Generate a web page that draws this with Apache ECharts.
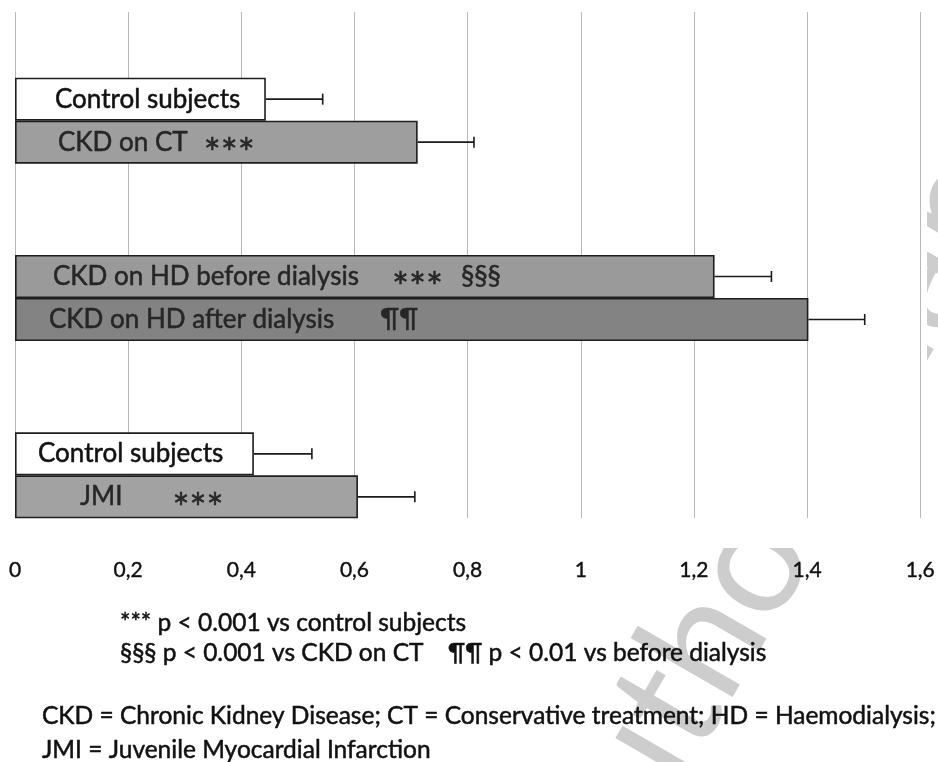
<!DOCTYPE html>
<html>
<head>
<meta charset="utf-8">
<script src="https://cdn.jsdelivr.net/npm/echarts@6/dist/echarts.min.js"></script>
<style>
  html, body { margin: 0; padding: 0; background: #ffffff; }
  #chart { width: 938px; height: 762px; }
</style>
</head>
<body>
<div id="chart"></div>
<script>
// Study groups (one band each on the category axis, top to bottom)
const groups = ['CKD on CT', 'CKD on HD', 'JMI'];

// Upper bar of each group
const upperNames = ['Control subjects', 'CKD on HD before dialysis', 'Control subjects'];
const upperStars = ['', '***', ''];
const upperSymbols = ['', '§§§', ''];
const upperMeans = [0.441, 1.230, 0.420];
const upperSD = [0.100, 0.100, 0.102];

// Lower bar of each group
const lowerNames = ['CKD on CT', 'CKD on HD after dialysis', 'JMI'];
const lowerStars = ['***', '', '***'];
const lowerSymbols = ['', '¶¶', ''];
const lowerMeans = [0.708, 1.395, 0.603];
const lowerSD = [0.099, 0.099, 0.100];

// Value axis tick labels (decimal comma)
const tickValues = [0, 0.2, 0.4, 0.6, 0.8, 1, 1.2, 1.4, 1.6];
const tickLabels = ['0', '0,2', '0,4', '0,6', '0,8', '1', '1,2', '1,4', '1,6'];

// Footnotes
const noteLines = [
  '*** p < 0.001 vs control subjects',
  '§§§ p < 0.001 vs CKD on CT',
  '¶¶ p < 0.01 vs before dialysis',
  'CKD = Chronic Kidney Disease; CT = Conservative treatment; HD = Haemodialysis;',
  'JMI = Juvenile Myocardial Infarction'
];

const FONT = 'Lato, "Open Sans", sans-serif';
const BAR_W = 43;

// Per-bar look: fill, text colour, label inset from the bar start, gaps before the marks
const upperStyle = [
  { fill: '#ffffff', text: '#111111', inset: 40, gapA: 0, gapB: 0 },
  { fill: '#9a9a9a', text: '#262626', inset: 38, gapA: 33, gapB: 18 },
  { fill: '#ffffff', text: '#111111', inset: 23, gapA: 0, gapB: 0 }
];
const lowerStyle = [
  { fill: '#9e9e9e', text: '#262626', inset: 43, gapA: 16, gapB: 0 },
  { fill: '#838383', text: '#262626', inset: 34, gapA: 0, gapB: 46 },
  { fill: '#a2a2a2', text: '#262626', inset: 65, gapA: 50, gapB: 0 }
];

function barItem(value, name, stars, symbols, st) {
  const symGap = stars ? st.gapB : st.gapA || st.gapB;
  const ink = { textBorderColor: st.text, textBorderWidth: 0.5 };
  const rich = {
    n: Object.assign({ fontFamily: FONT, fontSize: 26, color: st.text }, ink),
    a: Object.assign({ fontFamily: FONT, fontSize: 40, color: st.text, padding: [26, 0, 0, st.gapA] }, ink),
    s: Object.assign({ fontFamily: FONT, fontSize: 27, color: st.text, padding: [0, 0, 0, symGap] }, ink)
  };
  let txt = '{n|' + name + '}';
  if (stars) txt += '{a|' + stars + '}';
  if (symbols) txt += '{s|' + symbols + '}';
  return {
    value: value,
    itemStyle: { color: st.fill },
    label: {
      show: true,
      position: [st.inset, '50%'],
      verticalAlign: 'middle',
      align: 'left',
      formatter: txt,
      rich: rich
    }
  };
}

const upperData = upperMeans.map((v, i) => barItem(v, upperNames[i], upperStars[i], upperSymbols[i], upperStyle[i]));
const lowerData = lowerMeans.map((v, i) => barItem(v, lowerNames[i], lowerStars[i], lowerSymbols[i], lowerStyle[i]));

// Error bar records: [group index, mean, sd, side (-1 upper bar, +1 lower bar)]
const errData = [];
upperMeans.forEach((v, i) => errData.push([i, v, upperSD[i], -1]));
lowerMeans.forEach((v, i) => errData.push([i, v, lowerSD[i], 1]));

function renderErr(params, api) {
  const cat = api.value(0);
  const mean = api.value(1);
  const sd = api.value(2);
  const side = api.value(3);
  const p0 = api.coord([mean, cat]);
  const p1 = api.coord([mean + sd, cat]);
  const y = p0[1] + side * BAR_W / 2;
  const cap = 5.5;
  const st = { stroke: '#1a1a1a', lineWidth: 1.6 };
  return {
    type: 'group',
    children: [
      { type: 'line', shape: { x1: p0[0], y1: y, x2: p1[0], y2: y }, style: st },
      { type: 'line', shape: { x1: p1[0], y1: y - cap, x2: p1[0], y2: y + cap }, style: st }
    ]
  };
}

const noteStyle = {
  font: '24.5px ' + FONT, fill: '#111111', stroke: '#111111', lineWidth: 0.5,
  textVerticalAlign: 'middle'
};

const chart = echarts.init(document.getElementById('chart'), null, { renderer: 'canvas' });
chart.setOption({
  backgroundColor: '#ffffff',
  animation: false,
  grid: [
    // gridline frame
    { left: 15, right: 13, top: 12, bottom: 244 },
    // bar bands
    { left: 15, right: 13, top: 32, bottom: 198 }
  ],
  xAxis: [
    {
      gridIndex: 0, type: 'value', min: 0, max: 1.6, interval: 0.2,
      axisLine: { show: false }, axisTick: { show: false },
      splitLine: { show: true, lineStyle: { color: '#b8b8b8', width: 1 } },
      axisLabel: {
        margin: 42, fontFamily: FONT, fontSize: 21, color: '#111111',
        textBorderColor: '#111111', textBorderWidth: 0.4,
        formatter: v => {
          const k = tickValues.findIndex(t => Math.abs(t - v) < 1e-6);
          return k >= 0 ? tickLabels[k] : '';
        }
      }
    },
    { gridIndex: 1, type: 'value', min: 0, max: 1.6, show: false, splitLine: { show: false } }
  ],
  yAxis: [
    { gridIndex: 1, type: 'category', data: groups, inverse: true, show: false },
    { gridIndex: 0, type: 'category', data: groups, show: false }
  ],
  series: [
    {
      type: 'bar', xAxisIndex: 1, yAxisIndex: 0, barWidth: BAR_W, barGap: '0%',
      itemStyle: { borderColor: '#1e1e1e', borderWidth: 1.6 },
      data: upperData, z: 3
    },
    {
      type: 'bar', xAxisIndex: 1, yAxisIndex: 0, barWidth: BAR_W, barGap: '0%',
      itemStyle: { borderColor: '#1e1e1e', borderWidth: 1.6 },
      data: lowerData, z: 3
    },
    {
      type: 'custom', xAxisIndex: 1, yAxisIndex: 0, renderItem: renderErr,
      data: errData, z: 4, silent: true
    }
  ],
  graphic: [
    {
      type: 'text', x: 556, y: 900, rotation: Math.PI / 3, z: -20,
      style: { text: 'Author Manuscript', font: '160px ' + FONT, fill: '#cdcdcd',
               textAlign: 'left', textVerticalAlign: 'middle' }
    },
    { type: 'rect', shape: { x: 0, y: 0, width: 927, height: 548 }, style: { fill: '#ffffff' }, z: -19 },
    { type: 'text', x: 120, y: 623, z: 10, style: Object.assign({ text: noteLines[0] }, noteStyle) },
    { type: 'text', x: 120, y: 653, z: 10, style: Object.assign({ text: noteLines[1] }, noteStyle) },
    { type: 'text', x: 448, y: 653, z: 10, style: Object.assign({ text: noteLines[2] }, noteStyle) },
    { type: 'text', x: 42, y: 716, z: 10, style: Object.assign({ text: noteLines[3] }, noteStyle) },
    { type: 'text', x: 42, y: 750, z: 10, style: Object.assign({ text: noteLines[4] }, noteStyle) }
  ]
});
</script>
</body>
</html>
